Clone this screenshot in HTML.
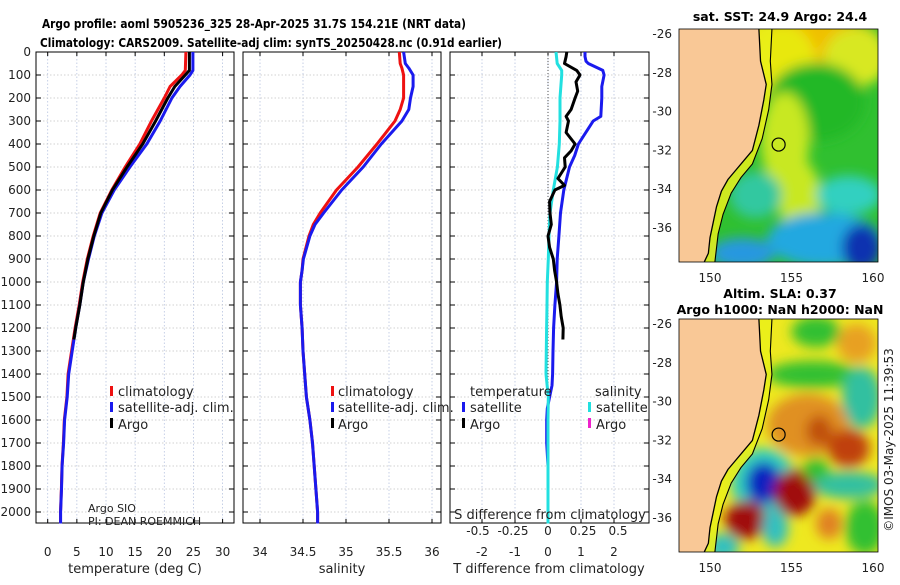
<!DOCTYPE html>
<html><head><meta charset="utf-8"><style>
body{margin:0;background:#fff;width:900px;height:580px;overflow:hidden}
svg{font-family:"DejaVu Sans","Liberation Sans",sans-serif}
</style></head><body>
<svg id="c" width="900" height="580" viewBox="0 0 900 580">
<defs>
<filter id="bl" x="-20%" y="-20%" width="140%" height="140%"><feGaussianBlur stdDeviation="6"/></filter>
<clipPath id="m1"><rect x="679" y="29" width="199" height="233"/></clipPath>
<clipPath id="m2"><rect x="679" y="319" width="199" height="233"/></clipPath>
</defs>
<text x="42" y="28" font-size="12" font-weight="bold" textLength="424" lengthAdjust="spacingAndGlyphs">Argo profile: aoml 5905236_325 28-Apr-2025 31.7S 154.21E (NRT data)</text>
<text x="40" y="47" font-size="12" font-weight="bold" textLength="462" lengthAdjust="spacingAndGlyphs">Climatology: CARS2009. Satellite-adj clim: synTS_20250428.nc (0.91d earlier)</text>
<g id="panels"></g>
<g id="maps"></g>
<text transform="translate(893,440) rotate(-90)" font-size="12" text-anchor="middle" fill="#222">©IMOS 03-May-2025 11:39:53</text>
</svg>
<script>
const depthTicks=[0,100,200,300,400,500,600,700,800,900,1000,1100,1200,1300,1400,1500,1600,1700,1800,1900,2000];
const zDepth=[0,80,100,150,200,300,400,500,600,700,800,900,1000,1100,1200,1300,1400,1500,1600,1700,1800,1900,2000,2050];
const tempClim=[23.7,23.6,23.0,21.0,20.0,17.8,15.8,13.3,11.0,9.0,7.8,6.8,6.0,5.4,4.7,4.1,3.5,3.3,2.85,2.7,2.45,2.35,2.2,2.2];
const tempSat=[24.9,24.9,24.4,22.7,21.3,19.3,17.0,14.1,11.4,9.3,8.0,7.0,6.1,5.5,4.8,4.2,3.6,3.35,2.9,2.72,2.47,2.37,2.22,2.22];
const zArgo=[0,80,100,150,200,300,400,500,600,700,800,900,1000,1100,1200,1250];
const tempArgo=[24.3,24.3,23.6,21.8,20.6,18.5,16.3,13.6,11.1,9.1,7.9,6.9,6.1,5.5,4.8,4.5];
const zSal=[0,50,70,100,150,200,250,300,400,500,600,700,750,800,900,950,1000,1100,1200,1300,1400,1500,1600,1700,1800,1900,2000,2050];
const salClim=[35.62,35.63,35.65,35.67,35.67,35.67,35.63,35.57,35.36,35.14,34.89,34.70,34.62,34.57,34.50,34.49,34.47,34.47,34.49,34.50,34.52,34.54,34.58,34.61,34.63,34.65,34.67,34.67];
const salSat=[35.67,35.69,35.73,35.78,35.78,35.75,35.73,35.65,35.41,35.20,34.95,34.74,34.64,34.58,34.505,34.49,34.47,34.47,34.49,34.50,34.52,34.54,34.58,34.61,34.63,34.65,34.67,34.67];
const zDT=[0,20,40,50,80,100,150,200,280,300,400,450,500,600,700,800,900,1000,1100,1200,1300,1400,1450,1500,1550,1600,1700,1800,1900,2000,2050];
const dTsat=[1.12,1.12,1.15,1.22,1.66,1.70,1.63,1.63,1.60,1.37,0.92,0.81,0.65,0.48,0.38,0.33,0.28,0.26,0.21,0.17,0.15,0.14,0.12,0.05,-0.02,-0.04,-0.04,0,0,0,0];
const zDS=[0,50,80,100,200,300,400,500,600,700,800,900,1000,1100,1200,1300,1400,1500,1600,2050];
const dSsat=[0.057,0.066,0.098,0.098,0.086,0.086,0.081,0.067,0.038,0.014,0.007,0.002,-0.005,-0.007,-0.01,-0.012,-0.014,0.002,0,0];
const zDA=[0,20,50,80,100,130,170,200,250,280,300,350,400,430,460,500,550,580,600,650,700,750,800,850,900,950,1000,1050,1100,1150,1200,1250];
const dTargo=[0.57,0.55,0.5,0.87,0.97,0.85,0.9,0.82,0.7,0.55,0.62,0.55,0.82,0.7,0.5,0.52,0.3,0.5,0.21,0.05,0.06,0.1,0.0,0.05,0.16,0.2,0.26,0.3,0.36,0.4,0.46,0.45];
const tTicks=[0,5,10,15,20,25,30];
const sTicks=[34,34.5,35,35.5,36];
const dTTicks=[-2,-1,0,1,2];
const dSTicks=[-0.5,-0.25,0,0.25,0.5];
const dSLabels=['-0.5','-0.25','0','0.25','0.5'];

const NS='http://www.w3.org/2000/svg';
function mk(tag,attrs,parent){const e=document.createElementNS(NS,tag);for(const k in attrs)e.setAttribute(k,attrs[k]);(parent||document.getElementById('panels')).appendChild(e);return e;}
const Y=d=>52+d*0.23;
const yTop=52,yBot=523;
const panels=[
 {x0:36,x1:234,xs:v=>47.7+v*5.83,name:'temperature-panel'},
 {x0:243,x1:441,xs:v=>260+(v-34)*86,name:'salinity-panel'},
 {x0:450,x1:649,xs:v=>548+v*33,name:'difference-panel'}
];
const P=document.getElementById('panels');
panels.forEach((p,i)=>{
  const g=mk('g',{},P);
  
  
  p.g=g;
  const ticks=i==0?tTicks:(i==1?sTicks:dTTicks);
  ticks.forEach(t=>{const x=p.xs(t);
    const l=mk('line',{x1:x,x2:x,y1:yTop,y2:yBot,stroke:'#b8c4e0','stroke-width':0.8,'stroke-dasharray':'1.5,2'},g);
    
    
    mk('line',{x1:x,x2:x,y1:yBot,y2:yBot-4,stroke:'#000'},g);mk('line',{x1:x,x2:x,y1:yTop,y2:yTop+4,stroke:'#000'},g);
  });
  depthTicks.forEach(d=>{const y=Y(d);
    const l=mk('line',{x1:p.x0,x2:p.x1,y1:y,y2:y,stroke:'#c4c4c4','stroke-width':0.8,'stroke-dasharray':'1.5,2'},g);
    
    
    mk('line',{x1:p.x0,x2:p.x0+5,y1:y,y2:y,stroke:'#000'},g);mk('line',{x1:p.x1-5,x2:p.x1,y1:y,y2:y,stroke:'#000'},g);
  });
  const fr=mk('rect',{x:p.x0,y:yTop,width:p.x1-p.x0,height:yBot-yTop,fill:'none',stroke:'#000','stroke-width':1},g);
  
  
  ticks.forEach(t=>{const tx=mk('text',{x:p.xs(t),y:556,'font-size':12,'text-anchor':'middle',fill:'#222'},g);tx.textContent=String(t);
    
    });
});
depthTicks.forEach(d=>{const t=mk('text',{x:31,y:Y(d)+4,'font-size':12,'text-anchor':'end',fill:'#222'},P);t.textContent=String(d);
  
  });
function line(g,xs,vals,zs,col,w,name){
  const pts=vals.map((v,i)=>xs(v).toFixed(1)+','+Y(zs[i]).toFixed(1)).join(' ');
  const l=mk('polyline',{points:pts,fill:'none',stroke:col,'stroke-width':w,'stroke-linejoin':'round'},g);
  
  }
const [p1,p2,p3]=panels;
line(p1.g,p1.xs,tempClim,zDepth,'#ee1111',3,'temperature-climatology-line');
line(p1.g,p1.xs,tempSat,zDepth,'#1a1aee',3,'temperature-satellite-line');
line(p1.g,p1.xs,tempArgo,zArgo,'#000',3,'temperature-argo-line');
line(p2.g,p2.xs,salClim,zSal,'#ee1111',3,'salinity-climatology-line');
line(p2.g,p2.xs,salSat,zSal,'#1a1aee',3,'salinity-satellite-line');
const zl=mk('line',{x1:548,x2:548,y1:yTop,y2:yBot,stroke:'#555','stroke-dasharray':'1,2'},p3.g);


const xsS=v=>548+v*140;
line(p3.g,p3.xs,dTsat,zDT,'#1a1aee',3,'t-diff-satellite-line');
line(p3.g,xsS,dSsat,zDS,'#22e0e0',3,'s-diff-satellite-line');
line(p3.g,p3.xs,dTargo,zDA,'#000',3,'t-diff-argo-line');
function txt(x,y,s,size,name,anchor){const t=mk('text',{x:x,y:y,'font-size':size,fill:'#222','text-anchor':anchor||'start'},P);t.textContent=s;
  
  return t;}
function mark(x,y,col,name){const r=mk('rect',{x:x,y:y-11,width:3,height:10,fill:col},P);
  
  }
[[110,118],[331,338]].forEach(([mx,tx],k)=>{
  mark(mx,397,'#ee1111','legend-climatology-marker');txt(tx,396,'climatology',13,'legend-climatology');
  mark(mx,413,'#1a1aee','legend-satellite-marker');txt(tx,412,'satellite-adj. clim.',13,'legend-satellite-adj');
  mark(mx,429,'#000','legend-argo-marker');txt(tx,429,'Argo',13,'legend-argo');
});
txt(470,396,'temperature',13,'legend-temperature-heading');
mark(462,413,'#1a1aee','legend-t-satellite-marker');txt(470,412,'satellite',13,'legend-t-satellite');
mark(462,429,'#000','legend-t-argo-marker');txt(470,429,'Argo',13,'legend-t-argo');
txt(595,396,'salinity',13,'legend-salinity-heading');
mark(588,413,'#22e0e0','legend-s-satellite-marker');txt(596,412,'satellite',13,'legend-s-satellite');
mark(588,429,'#ee22cc','legend-s-argo-marker');txt(596,429,'Argo',13,'legend-s-argo');
txt(88,512,'Argo SIO',11,'argo-institution');
txt(88,525,'PI: DEAN ROEMMICH',11,'argo-pi');
txt(550,519,'S difference from climatology',13,'s-axis-title','middle');
dSTicks.forEach((v,i)=>txt(xsS(v),535,dSLabels[i],12,'s-tick-label','middle'));
txt(135,573,'temperature (deg C)',13,'x-axis-title-temperature','middle');
txt(342,573,'salinity',13,'x-axis-title-salinity','middle');
txt(549,573,'T difference from climatology',13,'x-axis-title-tdiff','middle');

const M=document.getElementById('maps');
const lonTicks=[150,155,160];
const latTicks=[-26,-28,-30,-32,-34,-36];
const coast=[[153.0,-25.75],[153.1,-27.4],[153.45,-28.6],[153.3,-29.4],[153.0,-30.7],[152.6,-32.0],[152.0,-32.6],[151.5,-33.1],[151.1,-33.5],[150.7,-34.1],[150.4,-34.9],[150.2,-35.7],[150.0,-36.5],[149.9,-37.3],[149.65,-37.75]];
const shelf=[[153.8,-25.75],[153.7,-27.4],[153.8,-28.6],[153.6,-29.9],[153.2,-31.4],[152.6,-32.7],[151.9,-33.4],[151.3,-34.2],[150.8,-35.3],[150.5,-36.3],[150.3,-37.75]];
function buildMap(oy,clip,name,blobs,base,title1,title2){
  const g=document.createElementNS(NS,'g');M.appendChild(g);
  
  
  const X=l=>710+(l-150)*16.3, Yl=l=>oy+5+(-26-l)*19.4;
  const c=mk('g',{'clip-path':'url(#'+clip+')'},g);
  mk('rect',{x:679,y:oy,width:199,height:233,fill:base},c);
  const bg=mk('g',{filter:'url(#bl)'},c);
  blobs.forEach(b=>mk('ellipse',{cx:X(b[0]),cy:Yl(b[1]),rx:b[2]*16.3,ry:b[3]*19.4,fill:b[4]},bg));
  const cp=coast.map(p=>X(p[0])+','+Yl(p[1])).join(' ');
  const sp=shelf.map(p=>X(p[0])+','+Yl(p[1])).join(' ');
  mk('polygon',{points:cp+' '+shelf.slice().reverse().map(p=>X(p[0])+','+Yl(p[1])).join(' '),fill:'#eaf01a',opacity:0.85},c);
  mk('polygon',{points:'679,'+(oy-5)+' '+cp+' 679,'+(oy+240),fill:'#f9c896'},c);
  mk('polyline',{points:cp,fill:'none',stroke:'#000','stroke-width':1.3},c);
  mk('polyline',{points:sp,fill:'none',stroke:'#000','stroke-width':1.1},c);
  const ci=mk('circle',{cx:X(154.21),cy:Yl(-31.7),r:6.5,fill:'none',stroke:'#000','stroke-width':1.2},g);
  
  
  mk('rect',{x:679,y:oy,width:199,height:233,fill:'none',stroke:'#000','stroke-width':0.8},g);
  lonTicks.forEach(l=>{const t=mk('text',{x:X(l),y:oy+253,'font-size':12,'text-anchor':'middle',fill:'#222'},g);t.textContent=l;
    
    });
  latTicks.forEach(l=>{const t=mk('text',{x:672,y:Yl(l)+4,'font-size':12,'text-anchor':'end',fill:'#222'},g);t.textContent=l;
    
    });
  [title1,title2].forEach((s,i)=>{if(!s)return;const t=mk('text',{x:780,y:(title2?oy-21:oy-8)+i*16,'font-size':12.5,'font-weight':'bold','text-anchor':'middle'},g);t.textContent=s;
    
    });
}
const sstBlobs=[[156,-26.3,4.5,1.2,'#f0c000'],[154.5,-27.5,2,2,'#e8e810'],[159,-27.2,2,1.5,'#d8e820'],[156.5,-29.5,3,2,'#20b828'],[154.6,-31.5,1.5,2.5,'#c8e820'],[155.5,-34.5,1.3,2,'#c8e820'],[152.8,-34.3,1.6,1.2,'#30c8a0'],[158.5,-34.3,2,1,'#30d0c0'],[157,-36.6,3.5,1.4,'#20a8e0'],[159.3,-37.0,1.2,1.2,'#0830b0'],[152,-37.3,2,0.8,'#2898e0']];
buildMap(29,'m1','sst-map',sstBlobs,'#30c030','sat. SST: 24.9 Argo: 24.4',null);
const slaBlobs=[[156.5,-26.4,1.5,0.8,'#30c030'],[159,-27,1.2,1,'#e8a020'],[156.3,-28.6,2.8,0.7,'#30c030'],[159.3,-29.8,1.2,1.6,'#30c0a0'],[156,-31.2,2.5,1.6,'#e09020'],[156.7,-31.5,0.8,0.8,'#c05010'],[158.5,-32.4,1.3,1,'#c04010'],[153.3,-34.2,2.0,1.8,'#30d0c0'],[153.3,-34.2,1.1,1.1,'#0820c0'],[155.2,-34.7,1.3,1.2,'#a00808'],[152.2,-36.1,1.3,1,'#a00808'],[158.5,-34.3,2.2,0.7,'#30c0a0'],[157.3,-36.3,0.8,0.8,'#e08020'],[154,-36.5,0.8,1,'#30c0c0'],[150.8,-37.5,1,0.7,'#30c0c0'],[159.5,-36.5,1.2,1.4,'#30c030'],[156.5,-33.5,0.8,0.6,'#30c030']];
buildMap(319,'m2','sla-map',slaBlobs,'#eee820','Altim. SLA: 0.37','Argo h1000: NaN h2000: NaN');
</script>
</body></html>
